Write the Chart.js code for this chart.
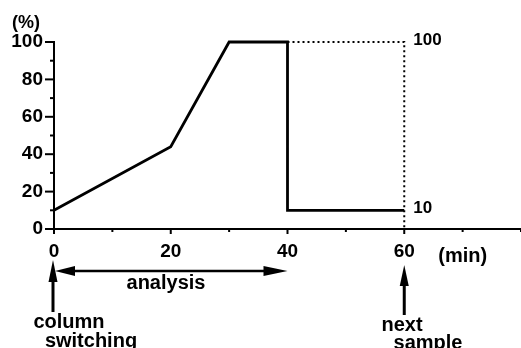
<!DOCTYPE html>
<html>
<head>
<meta charset="utf-8">
<script src="https://cdn.jsdelivr.net/npm/chart.js@4"></script>
<style>
  html, body { margin: 0; padding: 0; background: #fff; }
  #wrap { width: 521px; height: 348px; }
</style>
</head>
<body>
<div id="wrap"><canvas id="chart" width="521" height="348"></canvas></div>
<script>
// gradient program (min vs %)
const timeMin = [0, 20, 30, 40, 40, 60];
const solidPct = [10, 44, 100, 100, 10, 10];
const nextTime = [40, 60, 60];
const nextPct = [100, 100, 0];

const xTickLabels = [0, 20, 40, 60];
const yTickLabels = [0, 20, 40, 60, 80, 100];
const sideLabels = [100, 10];

const FONT = "'Liberation Sans', Arial, sans-serif";

const toPoints = (xs, ys) => xs.map((x, i) => ({ x: x, y: ys[i] }));

function arrowHead(ctx, x, y, dir, len, half) {
    // dir: 'up', 'left', 'right'
    ctx.beginPath();
    if (dir === 'up') {
        ctx.moveTo(x, y);
        ctx.lineTo(x - half, y + len);
        ctx.lineTo(x + half, y + len);
    } else if (dir === 'left') {
        ctx.moveTo(x, y);
        ctx.lineTo(x + len, y - half);
        ctx.lineTo(x + len, y + half);
    } else {
        ctx.moveTo(x, y);
        ctx.lineTo(x - len, y - half);
        ctx.lineTo(x - len, y + half);
    }
    ctx.closePath();
    ctx.fill();
}

const extras = {
    id: 'extras',
    afterDraw(chart) {
        const ctx = chart.ctx;
        const xs = chart.scales.x;
        const ys = chart.scales.y;
        const area = chart.chartArea;
        ctx.save();
        ctx.fillStyle = '#000';
        ctx.strokeStyle = '#000';
        ctx.lineWidth = 2;

        // ticks
        for (let v = 0; v <= 100; v += 10) {
            const py = ys.getPixelForValue(v);
            const len = v % 20 === 0 ? 9 : 4;
            ctx.beginPath();
            ctx.moveTo(area.left, py);
            ctx.lineTo(area.left - len, py);
            ctx.stroke();
        }
        for (let v = 0; v <= 80; v += 10) {
            const px = xs.getPixelForValue(v);
            const len = v % 20 === 0 && v <= 60 ? 5 : 3;
            ctx.beginPath();
            ctx.moveTo(px, area.bottom);
            ctx.lineTo(px, area.bottom + len);
            ctx.stroke();
        }

        const a0 = xs.getPixelForValue(0);
        const a40 = xs.getPixelForValue(40);
        const a60 = xs.getPixelForValue(60);

        // (%) and (min)
        ctx.textBaseline = 'middle';
        ctx.textAlign = 'left';
        ctx.font = 'bold 18px ' + FONT;
        ctx.fillText('(%)', 12, 23);
        ctx.font = 'bold 20px ' + FONT;
        ctx.fillText('(min)', a60 + 34, 256);

        // right-side labels
        ctx.font = 'bold 17px ' + FONT;
        sideLabels.forEach(v => {
            ctx.fillText(String(v), a60 + 9, ys.getPixelForValue(v) - 2);
        });

        // analysis arrow
        const ay = 271;
        ctx.lineWidth = 2.5;
        ctx.beginPath();
        ctx.moveTo(a0 + 10, ay);
        ctx.lineTo(a40 - 10, ay);
        ctx.stroke();
        arrowHead(ctx, a0 + 1, ay, 'left', 20, 5);
        arrowHead(ctx, a40, ay, 'right', 24, 5);
        ctx.font = 'bold 20px ' + FONT;
        ctx.textAlign = 'center';
        ctx.fillText('analysis', 166, 283);

        // column switching arrow
        ctx.lineWidth = 3;
        ctx.beginPath();
        ctx.moveTo(a0 - 1, 312);
        ctx.lineTo(a0 - 1, 275);
        ctx.stroke();
        arrowHead(ctx, a0 - 1, 260, 'up', 22, 4.5);
        ctx.fillText('column', 69, 322);
        ctx.fillText('switching', 91, 341);

        // next sample arrow
        ctx.beginPath();
        ctx.moveTo(a60, 315);
        ctx.lineTo(a60, 280);
        ctx.stroke();
        arrowHead(ctx, a60, 265, 'up', 21, 4.5);
        ctx.fillText('next', 402, 325);
        ctx.fillText('sample', 428, 343);

        ctx.restore();
    }
};

new Chart(document.getElementById('chart'), {
    type: 'scatter',
    data: {
        datasets: [
            {
                data: toPoints(timeMin, solidPct),
                showLine: true,
                borderColor: '#000',
                borderWidth: 2.8,
                pointRadius: 0,
                tension: 0
            },
            {
                data: toPoints(nextTime, nextPct),
                showLine: true,
                borderColor: '#000',
                borderWidth: 2,
                borderDash: [2, 3],
                pointRadius: 0,
                tension: 0
            }
        ]
    },
    options: {
        responsive: false,
        animation: false,
        clip: false,
        layout: { padding: { top: 42, right: 0, left: 0, bottom: 0 } },
        plugins: { legend: { display: false }, tooltip: { enabled: false } },
        scales: {
            x: {
                type: 'linear',
                min: 0,
                max: 80,
                afterFit: s => {
                    s.height = 119;
                    s.paddingLeft = 0;
                    s.paddingRight = 0;
                },
                border: { display: true, color: '#000', width: 2 },
                grid: { drawOnChartArea: false, drawTicks: false },
                ticks: {
                    stepSize: 10,
                    autoSkip: false,
                    maxRotation: 0,
                    padding: 11,
                    color: '#000',
                    font: { family: FONT, size: 19, weight: 'bold' },
                    callback: v => xTickLabels.includes(v) ? String(v) : ''
                }
            },
            y: {
                min: 0,
                max: 100,
                afterFit: s => {
                    s.width = 54;
                    s.paddingTop = 0;
                    s.paddingBottom = 0;
                },
                border: { display: true, color: '#000', width: 2 },
                grid: { drawOnChartArea: false, drawTicks: false },
                ticks: {
                    stepSize: 10,
                    autoSkip: false,
                    padding: 11,
                    color: '#000',
                    font: { family: FONT, size: 19, weight: 'bold' },
                    callback: v => yTickLabels.includes(v) ? String(v) : ''
                }
            }
        }
    },
    plugins: [extras]
});
</script>
</body>
</html>
